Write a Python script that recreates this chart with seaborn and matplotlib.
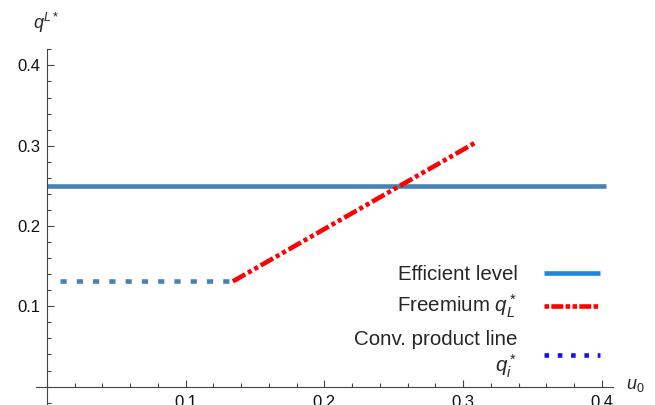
import numpy as np
import pandas as pd
import matplotlib
matplotlib.use('Agg')
import matplotlib.pyplot as plt
from matplotlib.lines import Line2D
from matplotlib.ticker import MultipleLocator
import seaborn as sns

# values
eff_x = [0.0, 0.403]
eff_y = [0.25, 0.25]
conv_x = [0.0094, 0.134]
conv_y = [0.132, 0.132]
free_x = [0.134, 0.309]
free_y = [0.131, 0.304]
x_ticks = [0.1, 0.2, 0.3, 0.4]
y_ticks = [0.1, 0.2, 0.3, 0.4]
legend_labels = ['Efficient level', 'Freemium $q_L^*$', 'Conv. product line\n$q_i^*$']

sns.set_style('white')
plt.rcParams['font.family'] = ['Liberation Sans', 'DejaVu Sans']
plt.rcParams['mathtext.fontset'] = 'custom'
plt.rcParams['mathtext.rm'] = 'Liberation Sans'
plt.rcParams['mathtext.it'] = 'Liberation Sans:italic'

LW = 3.3
line_blue = '#4682b4'

fig = plt.figure(figsize=(6.55, 4.05), dpi=100)
ax = fig.add_axes([36 / 655, 0, 577 / 655, 356 / 405])

df_eff = pd.DataFrame({'x': eff_x, 'y': eff_y})
df_conv = pd.DataFrame({'x': conv_x, 'y': conv_y})
df_free = pd.DataFrame({'x': free_x, 'y': free_y})

sns.lineplot(data=df_eff, x='x', y='y', ax=ax, color=line_blue, lw=LW,
             solid_capstyle='butt')
sns.lineplot(data=df_conv, x='x', y='y', ax=ax, color=line_blue, lw=LW,
             linestyle=(0, (1.35, 2.2)), dash_capstyle='butt')
sns.lineplot(data=df_free, x='x', y='y', ax=ax, color='#ff0000', lw=LW,
             linestyle=(0, (3.1, 0.7, 0.9, 0.7, 0.9, 0.7)), dash_capstyle='butt')

ax.set_xlim(-0.0079, 0.408)
ax.set_ylim(-0.0229, 0.4204)

for side in ['top', 'right']:
    ax.spines[side].set_visible(False)
ax.spines['left'].set_position(('data', 0))
ax.spines['bottom'].set_position(('data', 0))
for side in ['left', 'bottom']:
    ax.spines[side].set_color('#444444')
    ax.spines[side].set_linewidth(0.8)

ax.set_xticks(x_ticks)
ax.set_yticks(y_ticks)
ax.set_xticklabels([f'{v:.1f}' for v in x_ticks])
ax.set_yticklabels([f'{v:.1f}' for v in y_ticks])
ax.xaxis.set_minor_locator(MultipleLocator(0.02))
ax.yaxis.set_minor_locator(MultipleLocator(0.02))
ax.tick_params(which='both', direction='in', color='#444444', width=0.8,
               bottom=True, left=True, top=False, right=False,
               labelsize=12, labelcolor='#111111')
ax.tick_params(which='major', length=5)
ax.tick_params(which='minor', length=3)
ax.tick_params(axis='x', which='major', pad=6)
ax.tick_params(axis='y', which='major', pad=4.5)
ax.set_xlabel('')
ax.set_ylabel('')

fig.text(46 / 655, 1 - 23 / 405, '$q^{L*}$', ha='center', va='center', fontsize=13)
fig.text(635 / 655, 1 - 386 / 405, '$u_0$', ha='center', va='center', fontsize=13)

handles = [
    Line2D([], [], color='#1f86e0', lw=LW, solid_capstyle='butt'),
    Line2D([], [], color='#ff0000', lw=LW, linestyle=(0, (1.0, 0.5, 2.6, 0.5, 1.0, 0.5)),
           dash_capstyle='butt'),
    Line2D([], [], color='#1010f0', lw=LW, linestyle=(0, (1.0, 1.9)), dash_capstyle='butt'),
]
leg = ax.legend(handles, legend_labels, loc='lower right', bbox_to_anchor=(0.977, 0.07),
                markerfirst=False, frameon=False, fontsize=14.8, handlelength=2.7,
                handletextpad=1.3, labelspacing=0.45, borderpad=0, borderaxespad=0)
for t in leg.get_texts():
    t.set_multialignment('right')

fig.savefig('out.png', dpi=100)
